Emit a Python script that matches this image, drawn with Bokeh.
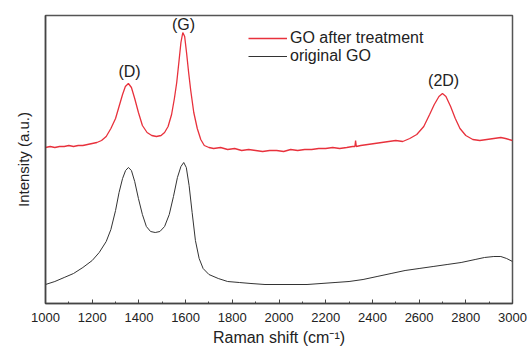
from bokeh.plotting import figure
from bokeh.models import Range1d, SingleIntervalTicker, FixedTicker, Legend, LegendItem, Label
from bokeh.embed import file_html
from bokeh.resources import INLINE

# Raman shift (cm^-1) and intensity (a.u.)
treated_shift = [1000, 1020, 1040, 1060, 1080, 1100, 1120, 1140, 1160, 1180, 1200, 1220, 1240, 1260, 1280,
                 1300, 1315, 1330, 1342, 1355, 1368, 1382, 1398, 1415, 1435, 1455, 1475, 1495, 1510, 1525,
                 1540, 1552, 1562, 1572, 1580, 1588, 1596, 1604, 1613, 1622, 1635, 1650, 1665, 1680, 1700,
                 1720, 1750, 1780, 1810, 1840, 1870, 1900, 1930, 1960, 1990, 2020, 2050, 2080, 2110, 2140,
                 2170, 2200, 2230, 2260, 2290, 2315, 2325, 2328, 2331, 2350, 2380, 2410, 2440, 2470, 2500,
                 2530, 2560, 2590, 2620, 2645, 2665, 2685, 2700, 2715, 2735, 2755, 2775, 2800, 2830, 2860,
                 2890, 2920, 2950, 2970, 3000]
treated_px = [147, 146, 147, 146, 146, 145, 146, 145, 145, 144, 143, 142, 140, 136, 128,
              118, 106, 94, 86, 83, 87, 98, 112, 125, 132, 135, 136, 135, 132, 126,
              114, 98, 82, 60, 42, 32, 36, 52, 72, 90, 112, 128, 139, 145, 147,
              148, 147, 149, 148, 150, 149, 150, 151, 150, 150, 151, 149, 150, 149, 149,
              148, 148, 147, 148, 147, 146, 146, 140, 146, 145, 144, 143, 142, 141, 140,
              141, 138, 134, 126, 114, 104, 96, 93, 96, 106, 118, 128, 135, 139, 140,
              139, 138, 137, 138, 140]

original_shift = [1000, 1040, 1080, 1120, 1160, 1200, 1230, 1260, 1280, 1300, 1315, 1330, 1343, 1355, 1368,
                  1382, 1398, 1415, 1432, 1450, 1470, 1490, 1510, 1530, 1548, 1565, 1580, 1592, 1603, 1615,
                  1628, 1642, 1658, 1675, 1700, 1740, 1780, 1830, 1880, 1940, 2000, 2060, 2120, 2180, 2240,
                  2300, 2360, 2420, 2480, 2540, 2600, 2660, 2720, 2780, 2840, 2880, 2920, 2950, 2975, 3000]
original_px = [284, 281, 277, 273, 267, 260, 252, 241, 229, 210, 192, 178, 170, 167, 170,
               181, 198, 214, 226, 231, 232, 231, 226, 214, 196, 177, 166, 162, 167, 185,
               212, 240, 258, 268, 274, 278, 281, 282, 283, 284, 284, 284, 284, 283, 282,
               281, 279, 276, 273, 270, 268, 266, 264, 262, 259, 257, 256, 256, 258, 261]

BASE = 303
treated_int = [BASE - v for v in treated_px]
original_int = [BASE - v for v in original_px]

peak_labels = ["(D)", "(G)", "(2D)"]
peak_x = [1360, 1591, 2705]
peak_y = [232, 279, 223]

x_ticks_interval = 200

FONT = "Liberation Sans"
TXT = "#222222"

p = figure(width=527, height=351, output_backend="svg", toolbar_location=None,
           x_range=Range1d(1000, 3000), y_range=Range1d(0, 288),
           min_border_left=45, min_border_right=15, min_border_top=15, min_border_bottom=48)
p.frame_width = 467
p.frame_height = 288
p.xgrid.visible = False
p.ygrid.visible = False
p.outline_line_color = "#555555"
p.outline_line_width = 1.5
p.background_fill_color = "white"
p.border_fill_color = "white"

r1 = p.line(treated_shift, treated_int, line_color="#e8313c", line_width=1.3)
r2 = p.line(original_shift, original_int, line_color="#333333", line_width=1.0)

xa = p.xaxis[0]
xa.ticker = SingleIntervalTicker(interval=x_ticks_interval, num_minor_ticks=2)
xa.major_tick_in = 4
xa.major_tick_out = 0
xa.minor_tick_in = 2
xa.minor_tick_out = 0
xa.axis_line_color = "#444444"
xa.axis_line_width = 1.5
xa.major_tick_line_color = "#444444"
xa.minor_tick_line_color = "#444444"
xa.major_label_text_font = FONT
xa.major_label_text_font_size = "13px"
xa.major_label_text_color = TXT
xa.major_label_standoff = 9
xa.axis_label = "Raman shift (cm\u207b\u00b9)"
xa.axis_label_text_font = FONT
xa.axis_label_text_font_size = "16px"
xa.axis_label_text_font_style = "normal"
xa.axis_label_text_color = TXT
xa.axis_label_standoff = 4

ya = p.yaxis[0]
ya.ticker = FixedTicker(ticks=[])
ya.major_tick_in = 0
ya.major_tick_out = 0
ya.minor_tick_in = 0
ya.minor_tick_out = 0
ya.axis_line_color = "#444444"
ya.axis_line_width = 1.5
ya.axis_label = "Intensity (a.u.)"
ya.axis_label_text_font = FONT
ya.axis_label_text_font_size = "15px"
ya.axis_label_text_font_style = "normal"
ya.axis_label_text_color = TXT
ya.axis_label_standoff = 14

for t, x, y in zip(peak_labels, peak_x, peak_y):
    p.add_layout(Label(x=x, y=y, text=t, text_align="center", text_baseline="middle",
                       text_font=FONT, text_font_size="16px", text_color=TXT))

legend = Legend(items=[LegendItem(label="GO after treatment", renderers=[r1]),
                       LegendItem(label="original GO", renderers=[r2])],
                location=(203, 238), border_line_color=None, background_fill_alpha=0,
                padding=0, margin=0, spacing=0, glyph_width=39, glyph_height=16,
                label_height=16, label_standoff=3,
                label_text_font=FONT, label_text_font_size="16px", label_text_color=TXT)
p.add_layout(legend)

open("out.html", "w").write(file_html(p, INLINE))
